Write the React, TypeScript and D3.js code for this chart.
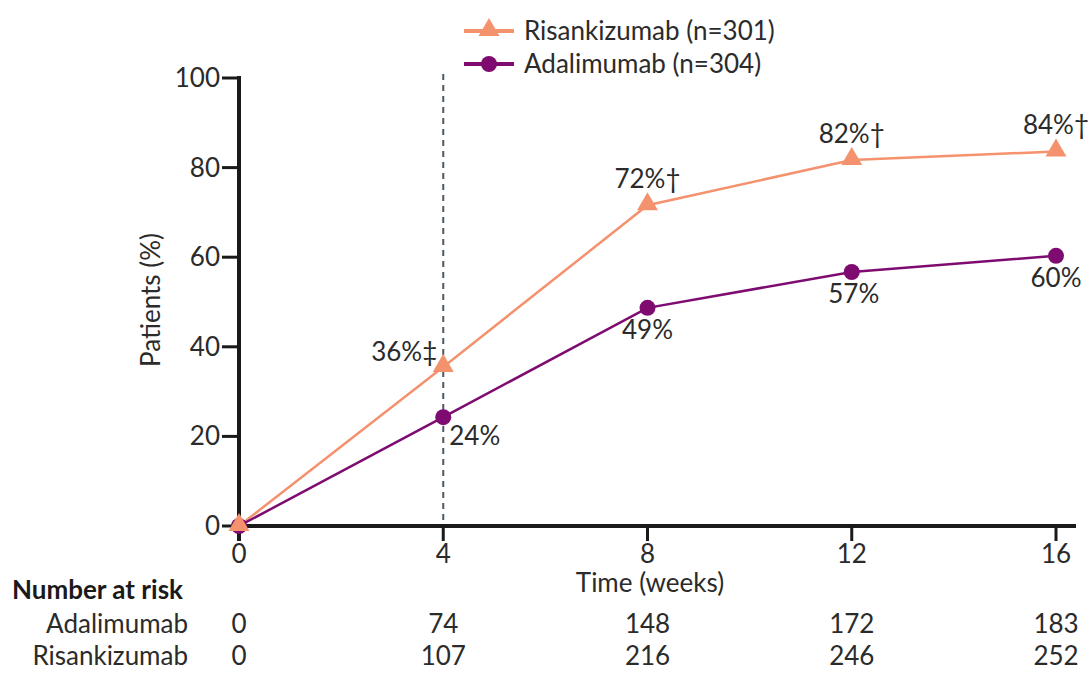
import React from "react";
import * as d3 from "d3";

const weeks = [0, 4, 8, 12, 16];
const risankizumab = [0, 35.5, 71.6, 81.7, 83.6];
const adalimumab = [0, 24.3, 48.7, 56.7, 60.3];
const risLabels = ["", "36%‡", "72%†", "82%†", "84%†"];
const adaLabels = ["", "24%", "49%", "57%", "60%"];
const yTicks = [0, 20, 40, 60, 80, 100];
const atRiskAda = [0, 74, 148, 172, 183];
const atRiskRis = [0, 107, 216, 246, 252];

const RIS = "#F5926E";
const ADA = "#7E0C70";
const FONT = "Lato, 'Open Sans', sans-serif";
const TXT = "#2b2b2b";
const FS = 26;

export default function App() {
  const x = d3.scaleLinear().domain([0, 16]).range([239, 1056]);
  const y = d3.scaleLinear().domain([0, 100]).range([526, 78]);
  const line = d3
    .line<number>()
    .x((_, i) => x(weeks[i]))
    .y((d) => y(d));
  const tri = d3.symbol().type(d3.symbolTriangle).size(190)();
  const risOff: [number, number][] = [[0, 0], [-6, -6], [0, -17], [0, -17], [0, -17]];
  const adaOff: [number, number][] = [[0, 0], [6, 28], [0, 31], [2, 31], [0, 31]];
  return (
    <svg width={1088} height={673} style={{ display: "block", position: "absolute", left: 0, top: 0 }} fontFamily={FONT}>
      <rect width={1088} height={673} fill="#fff" />
      {/* dashed line at week 4 */}
      <line x1={x(4)} x2={x(4)} y1={74} y2={526} stroke="#4d5a66" strokeWidth={2} strokeDasharray="6,5" />
      {/* axes */}
      <line x1={239} x2={239} y1={76} y2={541} stroke="#1a1a1a" strokeWidth={4} />
      <line x1={237} x2={1076} y1={526} y2={526} stroke="#1a1a1a" strokeWidth={4} />
      {yTicks.map((t) => (
        <g key={t}>
          <line x1={222} x2={239} y1={y(t)} y2={y(t)} stroke="#1a1a1a" strokeWidth={3} />
          <text x={220} y={y(t) + 9} textAnchor="end" fontSize={FS} fill={TXT}>{t}</text>
        </g>
      ))}
      {weeks.map((w) => (
        <g key={w}>
          <line x1={x(w)} x2={x(w)} y1={526} y2={541} stroke="#1a1a1a" strokeWidth={3} />
          <text x={x(w)} y={563} textAnchor="middle" fontSize={FS} fill={TXT}>{w}</text>
        </g>
      ))}
      <text transform={`translate(160,300) rotate(-90)`} textAnchor="middle" fontSize={FS} fill={TXT}>Patients (%)</text>
      <text x={650} y={592} textAnchor="middle" fontSize={FS} fill={TXT}>Time (weeks)</text>
      {/* lines */}
      <path d={line(risankizumab) || ""} fill="none" stroke={RIS} strokeWidth={2.5} />
      <path d={line(adalimumab) || ""} fill="none" stroke={ADA} strokeWidth={2.5} />
      {adalimumab.map((v, i) => (
        <circle key={i} cx={x(weeks[i])} cy={y(v)} r={8} fill={ADA} />
      ))}
      {risankizumab.map((v, i) => (
        <path key={i} d={tri || ""} transform={`translate(${x(weeks[i])},${y(v) - 1})`} fill={RIS} />
      ))}
      {risLabels.map((l, i) =>
        l ? (
          <text key={i} x={x(weeks[i]) + risOff[i][0]} y={y(risankizumab[i]) + risOff[i][1]} textAnchor={i === 1 ? "end" : "middle"} fontSize={FS} fill={TXT}>{l}</text>
        ) : null
      )}
      {adaLabels.map((l, i) =>
        l ? (
          <text key={i} x={x(weeks[i]) + adaOff[i][0]} y={y(adalimumab[i]) + adaOff[i][1]} textAnchor={i === 1 ? "start" : "middle"} fontSize={FS} fill={TXT}>{l}</text>
        ) : null
      )}
      {/* legend */}
      <line x1={464} x2={514} y1={31} y2={31} stroke={RIS} strokeWidth={4} />
      <path d={tri || ""} transform="translate(489,30)" fill={RIS} />
      <text x={524} y={40} fontSize={FS} fill={TXT}>Risankizumab (n=301)</text>
      <line x1={464} x2={514} y1={64} y2={64} stroke={ADA} strokeWidth={4} />
      <circle cx={489} cy={64} r={8} fill={ADA} />
      <text x={524} y={73} fontSize={FS} fill={TXT}>Adalimumab (n=304)</text>
      {/* number at risk */}
      <text x={12} y={599} fontSize={FS} fontWeight="bold" fill="#1a1a1a">Number at risk</text>
      <text x={188} y={633} textAnchor="end" fontSize={FS} fill={TXT}>Adalimumab</text>
      <text x={188} y={665} textAnchor="end" fontSize={FS} fill={TXT}>Risankizumab</text>
      {atRiskAda.map((v, i) => (
        <text key={i} x={x(weeks[i])} y={633} textAnchor="middle" fontSize={FS} fill={TXT}>{v}</text>
      ))}
      {atRiskRis.map((v, i) => (
        <text key={i} x={x(weeks[i])} y={665} textAnchor="middle" fontSize={FS} fill={TXT}>{v}</text>
      ))}
    </svg>
  );
}
